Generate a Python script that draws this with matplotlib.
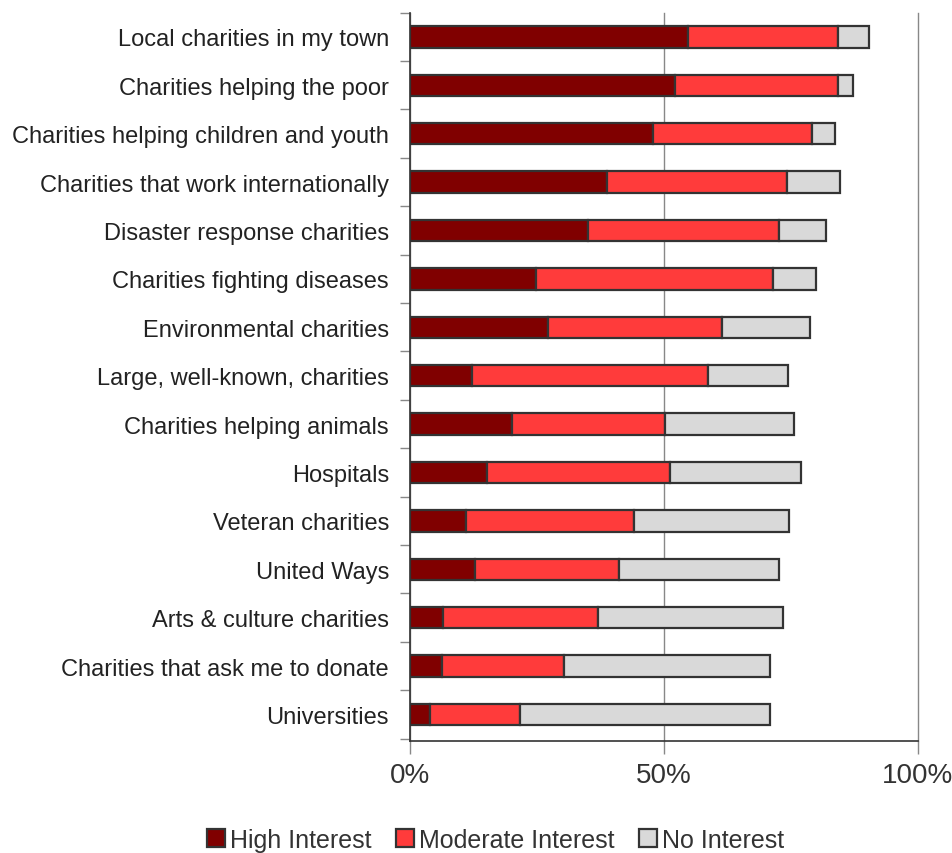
import matplotlib
matplotlib.use("Agg")
import matplotlib.pyplot as plt
import numpy as np

categories = [
    "Local charities in my town",
    "Charities helping the poor",
    "Charities helping children and youth",
    "Charities that work internationally",
    "Disaster response charities",
    "Charities fighting diseases",
    "Environmental charities",
    "Large, well-known, charities",
    "Charities helping animals",
    "Hospitals",
    "Veteran charities",
    "United Ways",
    "Arts & culture charities",
    "Charities that ask me to donate",
    "Universities",
]
high_interest = [54.7, 52.2, 47.8, 38.8, 35.0, 24.8, 27.2, 12.2, 20.1, 15.2, 11.0, 12.8, 6.5, 6.3, 3.9]
moderate_interest = [29.7, 32.1, 31.3, 35.4, 37.6, 46.7, 34.2, 46.5, 30.1, 36.0, 33.1, 28.3, 30.5, 24.0, 17.8]
no_interest = [6.0, 2.9, 4.6, 10.4, 9.3, 8.4, 17.3, 15.7, 25.4, 25.8, 30.5, 31.5, 36.4, 40.6, 49.2]
series_names = ["High Interest", "Moderate Interest", "No Interest"]
xtick_labels = ["0%", "50%", "100%"]

colors = ["#800000", "#FF3B3B", "#D9D9D9"]
edge = "#333333"

plt.rcParams["font.family"] = ["Liberation Sans", "DejaVu Sans"]

fig = plt.figure(figsize=(9.53, 8.54), dpi=100)
ax = fig.add_axes([0.430, 0.131, 0.533, 0.853])

y = np.arange(len(categories))
left = np.zeros(len(categories))
for vals, name, c in zip([high_interest, moderate_interest, no_interest], series_names, colors):
    ax.barh(y, vals, left=left, height=0.44, color=c, edgecolor=edge,
            linewidth=1.6, label=name, zorder=3)
    left = left + np.array(vals)

ax.set_ylim(len(categories) - 0.45, -0.5)
ax.set_xlim(0, 100)
ax.set_yticks(y)
ax.set_yticklabels(categories, fontsize=17, color="#222222")
ax.tick_params(axis="y", which="major", length=0, pad=15)
ax.set_yticks(np.arange(-0.5, len(categories), 1.0), minor=True)
ax.tick_params(axis="y", which="minor", length=7, color="#888888", width=1)

ax.set_xticks([0, 50, 100])
ax.set_xticklabels(xtick_labels, fontsize=20, color="#333333")
ax.tick_params(axis="x", length=9, color="#888888", width=1, pad=6)
ax.xaxis.grid(True, color="#888888", linewidth=1, zorder=0)
for gl in ax.get_xgridlines():
    gl.set_clip_on(False)

for s in ["top", "right"]:
    ax.spines[s].set_visible(False)
ax.spines["left"].set_color("#333333")
ax.spines["bottom"].set_color("#333333")
ax.spines["left"].set_linewidth(1.2)
ax.spines["bottom"].set_linewidth(1.2)

leg = fig.legend(loc="lower center", bbox_to_anchor=(0.52, -0.025), ncol=3,
                 frameon=False, fontsize=18, handlelength=0.7, handleheight=0.7,
                 handletextpad=0.2, columnspacing=1.0)
for t in leg.get_texts():
    t.set_color("#333333")

fig.savefig("out.png", dpi=100)
